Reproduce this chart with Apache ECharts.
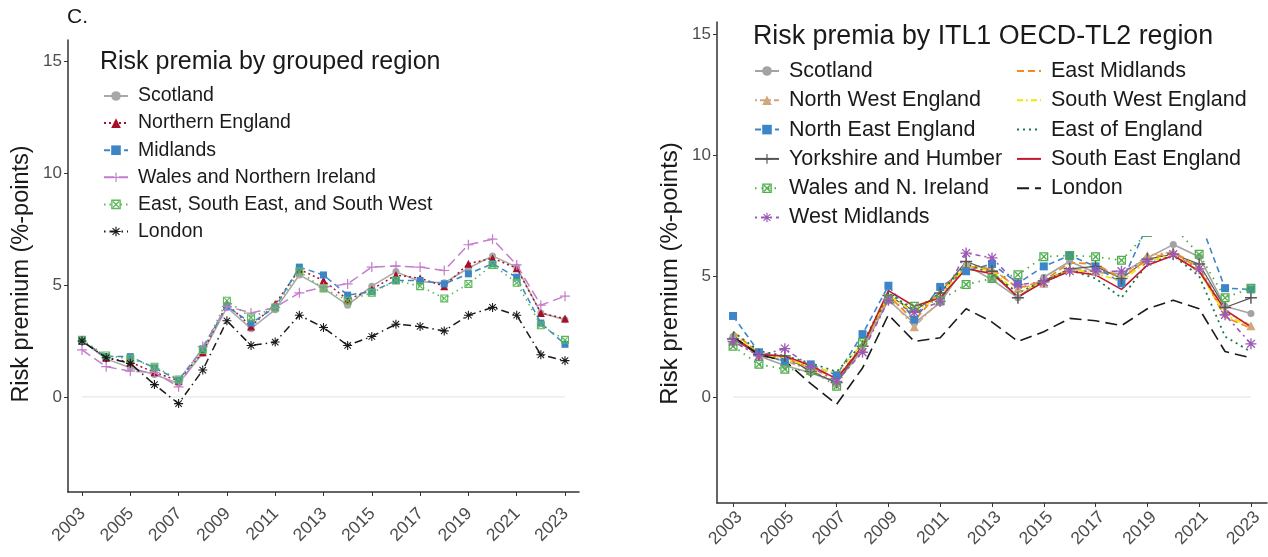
<!DOCTYPE html>
<html>
<head>
<meta charset="utf-8">
<script src="https://cdn.jsdelivr.net/npm/echarts@6/dist/echarts.min.js"></script>
<style>
  html, body { margin: 0; padding: 0; background: #ffffff; }
  #chart { width: 1268px; height: 557px; }
</style>
</head>
<body>
<div id="chart"></div>
<script>
// ---- years and tick labels ----
const years = [2003, 2004, 2005, 2006, 2007, 2008, 2009, 2010, 2011, 2012, 2013,
               2014, 2015, 2016, 2017, 2018, 2019, 2020, 2021, 2022, 2023];
const yearTicks = [2003, 2005, 2007, 2009, 2011, 2013, 2015, 2017, 2019, 2021, 2023];
const premiumTicks = [0, 5, 10, 15];

// ---- risk premia, grouped regions (%-points) ----
const scotland        = [2.5, 1.7, 1.3, 1.0, 0.6, 1.95, 4.0, 3.05, 3.9, 5.45, 4.85, 4.1, 4.95, 5.6, 5.15, 5.1, 5.75, 6.3, 5.8, 3.75, 3.45];
const northernEngland = [2.5, 1.75, 1.55, 1.1, 0.72, 2.0, 4.15, 3.15, 4.15, 5.7, 5.2, 4.35, 4.8, 5.45, 5.3, 4.95, 5.95, 6.2, 5.75, 3.75, 3.5];
const midlands        = [2.5, 1.8, 1.8, 1.3, 0.75, 2.15, 4.05, 3.3, 4.0, 5.8, 5.45, 4.55, 4.7, 5.2, 5.2, 5.05, 5.5, 5.95, 5.35, 3.3, 2.35];
const walesNI         = [2.1, 1.35, 1.15, 1.1, 0.45, 2.25, 4.05, 3.75, 4.0, 4.65, 4.9, 5.05, 5.8, 5.85, 5.8, 5.65, 6.8, 7.05, 5.9, 4.1, 4.5];
const eastSouth       = [2.55, 1.85, 1.7, 1.35, 0.78, 2.1, 4.3, 3.55, 4.0, 5.6, 4.85, 4.3, 4.65, 5.2, 4.95, 4.4, 5.05, 5.9, 5.1, 3.2, 2.55];
const london          = [2.5, 1.75, 1.5, 0.55, -0.3, 1.2, 3.4, 2.3, 2.45, 3.65, 3.1, 2.3, 2.7, 3.25, 3.15, 2.95, 3.65, 4.0, 3.65, 1.88, 1.62];

// ---- risk premia, ITL1 regions (%-points) ----
const northWest     = [2.3, 1.7, 1.5, 1.1, 0.6, 2.0, 4.1, 2.9, 4.0, 5.5, 5.3, 4.5, 4.7, 5.3, 5.2, 5.0, 5.85, 6.0, 5.4, 3.55, 2.95];
const northEast     = [3.35, 1.85, 1.45, 1.35, 0.9, 2.6, 4.6, 3.2, 4.55, 5.2, 5.5, 4.7, 5.4, 5.85, 5.4, 4.7, 7.1, 8.0, 7.35, 4.5, 4.45];
const yorkshire     = [2.4, 1.75, 1.7, 1.05, 0.6, 2.1, 4.2, 3.55, 4.3, 5.6, 5.2, 4.1, 4.8, 5.3, 5.4, 4.9, 5.7, 5.9, 5.5, 3.7, 4.1];
const westMidlands  = [2.3, 1.7, 2.0, 1.25, 0.65, 1.85, 4.0, 3.5, 3.95, 5.95, 5.75, 4.65, 4.75, 5.2, 5.2, 5.2, 5.6, 5.9, 5.3, 3.4, 2.2];
const eastMidlands  = [2.7, 1.8, 1.6, 1.2, 0.8, 2.1, 4.2, 3.15, 4.4, 5.4, 5.3, 4.5, 4.8, 5.55, 5.5, 4.9, 5.7, 6.0, 5.3, 3.3, 2.85];
const southWest     = [2.6, 1.75, 1.6, 1.25, 1.0, 2.2, 4.2, 3.5, 4.2, 5.4, 5.2, 4.3, 4.75, 5.3, 5.1, 4.8, 5.6, 5.9, 5.2, 3.4, 2.9];
const eastOfEngland = [2.7, 1.9, 1.7, 1.4, 1.05, 2.2, 4.3, 3.6, 4.3, 5.5, 5.1, 4.3, 4.8, 5.25, 4.9, 4.1, 5.5, 5.85, 5.0, 2.5, 1.87];
const southEast     = [2.5, 1.75, 1.7, 1.3, 0.75, 2.1, 4.4, 3.75, 4.1, 5.3, 5.1, 4.15, 4.75, 5.2, 5.05, 4.45, 5.45, 5.85, 5.2, 3.6, 2.9];

// ---- marker shapes (10x10 boxes) ----
const PLUS = 'path://M4.4,0H5.6V4.4H10V5.6H5.6V10H4.4V5.6H0V4.4H4.4Z';
const ASTERISK = 'path://M0,4.4H10V5.6H0Z M4.4,0H5.6V10H4.4Z M1.0,1.8L1.8,1.0L9.0,8.2L8.2,9.0Z M8.2,1.0L9.0,1.8L1.8,9.0L1.0,8.2Z';
const SQUARE_X = 'path://M0,0H10V10H0Z M1.4,1.4V8.6H8.6V1.4Z M1.4,2.4L2.4,1.4L8.6,7.6L7.6,8.6Z M7.6,1.4L8.6,2.4L2.4,8.6L1.4,7.6Z';

const FONT = "'Liberation Sans', Arial, Helvetica, sans-serif";
const RIGHT = 'itl:';   // prefix keeping the right-hand series names distinct

function pairs(vals) { return years.map((y, i) => [y, vals[i]]); }

function lineSeries(panel, name, vals, color, dash, width, symbol, size, z) {
  return {
    type: 'line',
    name: name,
    xAxisIndex: panel,
    yAxisIndex: panel,
    data: pairs(vals),
    symbol: symbol || 'none',
    showSymbol: !!symbol,
    symbolSize: size,
    lineStyle: { color: color, width: width, type: dash },
    itemStyle: { color: color },
    emphasis: { disabled: true },
    z: z,
    animation: false
  };
}

function zeroLine(panel) {
  return {
    type: 'line',
    xAxisIndex: panel, yAxisIndex: panel,
    data: [[years[0], 0], [years[years.length - 1], 0]],
    symbol: 'none', silent: true,
    lineStyle: { color: '#e3e3e3', width: 1 },
    z: 1, animation: false
  };
}

const leftSeries = [
  lineSeries(0, 'Scotland', scotland, '#a8a8a8', 'solid', 1.5, 'circle', 7, 2),
  lineSeries(0, 'Northern England', northernEngland, '#a8102a', [2, 3], 1.5, 'triangle', 8, 3),
  lineSeries(0, 'Midlands', midlands, '#3d86c6', [6, 4], 1.5, 'rect', 7, 4),
  lineSeries(0, 'Wales and Northern Ireland', walesNI, '#c47ccc', [10, 5], 1.5, PLUS, 10, 5),
  lineSeries(0, 'East, South East, and South West', eastSouth, '#5cb85a', [1.5, 4], 1.6, SQUARE_X, 8, 6),
  lineSeries(0, 'London', london, '#1a1a1a', [1.5, 4, 8, 4], 1.5, ASTERISK, 9, 7)
];

const rightSeries = [
  lineSeries(1, RIGHT + 'Scotland', scotland, '#a3a3a3', 'solid', 1.6, 'circle', 7, 2),
  lineSeries(1, RIGHT + 'North West England', northWest, '#d2a77c', [2, 3, 6, 3], 1.6, 'triangle', 9, 2),
  lineSeries(1, RIGHT + 'North East England', northEast, '#3b86c8', [6, 4], 1.6, 'rect', 8, 2),
  lineSeries(1, RIGHT + 'Yorkshire and Humber', yorkshire, '#555555', 'solid', 1.2, PLUS, 12, 2),
  lineSeries(1, RIGHT + 'Wales and N. Ireland', walesNI, '#4fae4c', [1.5, 5], 1.8, SQUARE_X, 9, 2),
  lineSeries(1, RIGHT + 'West Midlands', westMidlands, '#9b58b6', [2, 4, 5, 4], 1.6, ASTERISK, 11, 2),
  lineSeries(1, RIGHT + 'East Midlands', eastMidlands, '#f28a1e', [7, 4], 1.8, null, 0, 2),
  lineSeries(1, RIGHT + 'South West England', southWest, '#f2e600', [6, 3, 2, 3], 1.8, null, 0, 2),
  lineSeries(1, RIGHT + 'East of England', eastOfEngland, '#16794a', [2, 4], 1.8, null, 0, 2),
  lineSeries(1, RIGHT + 'South East England', southEast, '#c4182e', 'solid', 1.6, null, 0, 2),
  lineSeries(1, RIGHT + 'London', london, '#1a1a1a', [12, 6], 1.6, null, 0, 2)
];

function xAxis(grid, min, max, margin, shift) {
  return {
    type: 'value', gridIndex: grid, min: min, max: max,
    axisLine: { show: true, onZero: false, lineStyle: { color: '#333333', width: 1.5 } },
    axisTick: { show: true, length: 4, lineStyle: { color: '#333333', width: 1 }, customValues: yearTicks },
    axisLabel: { customValues: yearTicks, rotate: 45, margin: margin, align: 'right', verticalAlign: 'top',
                 padding: [0, shift, 0, 0],
                 fontSize: 17.5, color: '#4d4d4d', fontFamily: FONT, formatter: v => String(v) },
    splitLine: { show: false }
  };
}

function yAxis(grid, min, max, nameSize, gap, nameShift) {
  return {
    type: 'value', gridIndex: grid, min: min, max: max,
    name: 'Risk premium (%-points)', nameLocation: 'middle', nameGap: gap,
    nameTextStyle: { fontSize: nameSize, color: '#1a1a1a', fontFamily: FONT, padding: [0, nameShift, 0, 0] },
    axisLine: { show: true, onZero: false, lineStyle: { color: '#333333', width: 1.5 } },
    axisTick: { show: true, length: 4, lineStyle: { color: '#333333', width: 1 }, customValues: premiumTicks },
    axisLabel: { customValues: premiumTicks, margin: 6, fontSize: 17, color: '#4d4d4d', fontFamily: FONT },
    splitLine: { show: false }
  };
}

// legend entries; lines drawn without markers get no marker in the key either
function legendBlock(seriesList, left, top, gap, fontSize) {
  return {
    orient: 'vertical', left: left, top: top, padding: 0,
    data: seriesList.map(s => s.showSymbol ? { name: s.name } : { name: s.name, itemStyle: { opacity: 0 } }),
    itemWidth: 24, itemHeight: 12, itemGap: gap,
    selectedMode: false, z: 5,
    formatter: n => n.replace(RIGHT, ''),
    textStyle: { fontSize: fontSize, color: '#1a1a1a', fontFamily: FONT, padding: [0, 0, 0, 5] }
  };
}

const chart = echarts.init(document.getElementById('chart'), null, { renderer: 'canvas' });
chart.setOption({
  backgroundColor: '#ffffff',
  animation: false,
  textStyle: { fontFamily: FONT },
  grid: [
    { left: 68, top: 40, width: 511, height: 452 },
    { left: 717, top: 22, width: 550, height: 481 }
  ],
  xAxis: [xAxis(0, 2002.42, 2023.58, 7, 8), xAxis(1, 2002.38, 2023.62, 5, 0)],
  yAxis: [yAxis(0, -4.25, 15.95, 23.5, 34, 16), yAxis(1, -4.38, 15.5, 24, 35, 22)],
  title: [
    { text: 'Risk premia by grouped region', left: 100, top: 50, padding: 0,
      textStyle: { fontSize: 25, fontWeight: 'normal', color: '#1a1a1a', fontFamily: FONT } },
    { text: 'Risk premia by ITL1 OECD-TL2 region', left: 753, top: 23, padding: 0,
      textStyle: { fontSize: 26.8, fontWeight: 'normal', color: '#1a1a1a', fontFamily: FONT } }
  ],
  legend: [
    legendBlock(leftSeries, 103, 86, 7.1, 19.5),
    legendBlock(rightSeries.slice(0, 6), 754, 60, 7.3, 21.5),
    legendBlock(rightSeries.slice(6), 1016, 60, 7.3, 21.5)
  ],
  graphic: [
    { type: 'text', left: 67, top: 7, z: 10,
      style: { text: 'C.', fontSize: 21, fill: '#1a1a1a', fontFamily: FONT } },
    { type: 'rect', z: 3, shape: { x: 92, y: 44, width: 360, height: 198 }, style: { fill: '#ffffff' }, silent: true },
    { type: 'rect', z: 3, shape: { x: 745, y: 14, width: 518, height: 222 }, style: { fill: '#ffffff' }, silent: true }
  ],
  series: [zeroLine(0), zeroLine(1)].concat(leftSeries, rightSeries)
});
</script>
</body>
</html>
